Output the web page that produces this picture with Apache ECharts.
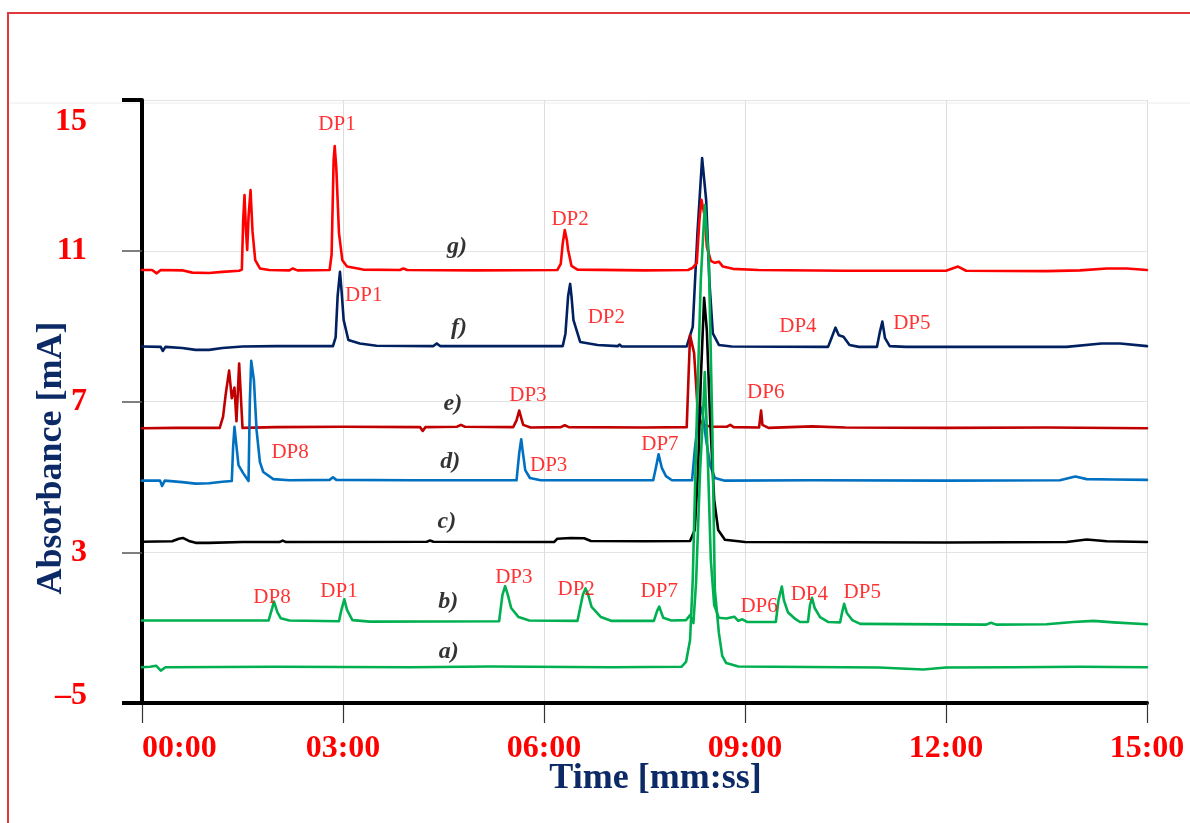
<!DOCTYPE html>
<html><head><meta charset="utf-8">
<script src="https://cdn.jsdelivr.net/npm/echarts@6/dist/echarts.min.js"></script>
<style>html,body{margin:0;padding:0;background:#fff}#c{width:1190px;height:823px}</style>
</head><body><div id="c"></div>
<script>
// ---- tick labels ----
const xTickValues = [0, 3, 6, 9, 12, 15];
const xTickLabels = ['00:00', '03:00', '06:00', '09:00', '12:00', '15:00'];
const yTickValues = [-1, 3, 7, 11, 15];
const yTickLabels = ['\u20135', '3', '7', '11', '15'];

// ---- traces: [time (min), absorbance] ----
const traceG = [[0,10.49],[0.15,10.49],[0.22,10.40],[0.28,10.49],[0.6,10.48],[0.75,10.42],[1.0,10.41],[1.2,10.44],[1.45,10.47],[1.49,10.5],[1.51,11.8],[1.53,12.48],[1.55,11.6],[1.57,11.02],[1.59,11.9],[1.62,12.61],[1.65,11.5],[1.69,10.75],[1.76,10.53],[1.9,10.49],[2.2,10.48],[2.25,10.53],[2.32,10.48],[2.8,10.49],[2.83,10.9],[2.86,13.4],[2.876,13.78],[2.9,13.2],[2.94,11.47],[2.99,10.75],[3.06,10.58],[3.3,10.50],[3.85,10.49],[3.9,10.53],[3.96,10.49],[5.0,10.48],[6.2,10.49],[6.25,10.65],[6.28,11.2],[6.31,11.55],[6.34,11.3],[6.36,11.02],[6.41,10.60],[6.5,10.50],[7.5,10.48],[8.15,10.49],[8.22,10.55],[8.28,10.67],[8.32,11.82],[8.35,12.35],[8.40,11.90],[8.43,11.11],[8.49,10.73],[8.55,10.68],[8.61,10.71],[8.67,10.58],[8.82,10.52],[9.2,10.49],[10.5,10.47],[12.0,10.47],[12.18,10.58],[12.3,10.47],[13.5,10.46],[14.0,10.48],[14.4,10.53],[14.7,10.53],[15,10.49]];
const traceF = [[0,8.46],[0.28,8.45],[0.31,8.34],[0.35,8.45],[0.6,8.42],[0.8,8.37],[1.0,8.37],[1.2,8.42],[1.5,8.46],[2.0,8.47],[2.85,8.47],[2.89,8.7],[2.92,9.8],[2.955,10.44],[2.98,9.9],[3.01,9.16],[3.08,8.63],[3.25,8.54],[3.5,8.48],[4.35,8.47],[4.4,8.54],[4.45,8.47],[6.28,8.47],[6.32,8.8],[6.36,9.8],[6.39,10.12],[6.41,9.8],[6.44,9.16],[6.54,8.58],[6.8,8.50],[7.1,8.47],[7.13,8.51],[7.16,8.46],[8.13,8.46],[8.22,8.98],[8.29,11.47],[8.36,13.46],[8.42,12.35],[8.47,10.14],[8.52,8.81],[8.61,8.50],[8.8,8.46],[10.24,8.45],[10.29,8.68],[10.35,8.96],[10.40,8.76],[10.47,8.72],[10.56,8.50],[10.7,8.45],[10.97,8.45],[11.01,8.82],[11.05,9.12],[11.09,8.68],[11.16,8.47],[11.4,8.45],[13.8,8.45],[14.32,8.54],[14.6,8.54],[15,8.47]];
const traceE = [[0,6.29],[0.5,6.30],[1.0,6.30],[1.16,6.30],[1.21,6.6],[1.25,7.2],[1.30,7.82],[1.34,7.09],[1.38,7.37],[1.41,6.48],[1.45,8.01],[1.50,6.30],[2.0,6.32],[3.0,6.33],[4.15,6.32],[4.19,6.22],[4.23,6.32],[4.7,6.33],[4.76,6.38],[4.82,6.33],[5.54,6.32],[5.59,6.5],[5.63,6.76],[5.67,6.5],[5.69,6.38],[5.8,6.31],[6.25,6.32],[6.31,6.37],[6.37,6.32],[7.5,6.31],[8.13,6.32],[8.16,7.8],[8.18,8.76],[8.24,8.29],[8.30,6.60],[8.37,6.38],[8.5,6.33],[8.73,6.33],[8.78,6.38],[8.83,6.32],[9.21,6.31],[9.24,6.76],[9.26,6.38],[9.35,6.30],[10.0,6.34],[10.5,6.31],[12,6.30],[13.5,6.31],[15,6.29]];
const traceD = [[0,4.90],[0.27,4.90],[0.30,4.76],[0.34,4.90],[0.6,4.86],[0.8,4.82],[1.0,4.83],[1.2,4.87],[1.34,4.89],[1.36,5.79],[1.38,6.33],[1.40,5.98],[1.44,5.31],[1.51,5.10],[1.59,4.89],[1.61,7.04],[1.63,8.08],[1.67,7.57],[1.71,6.24],[1.76,5.39],[1.81,5.13],[1.96,4.94],[2.2,4.91],[2.8,4.92],[2.85,4.99],[2.9,4.92],[4.0,4.91],[5.59,4.91],[5.63,5.63],[5.66,6.00],[5.68,5.71],[5.72,5.18],[5.79,4.97],[5.95,4.91],[7.63,4.91],[7.67,5.24],[7.71,5.60],[7.76,5.23],[7.82,5.02],[7.91,4.91],[8.21,4.91],[8.25,5.71],[8.30,6.51],[8.33,6.88],[8.37,6.64],[8.42,5.98],[8.48,5.31],[8.55,4.97],[8.7,4.90],[10,4.91],[12,4.90],[13.7,4.91],[13.93,5.01],[14.1,4.94],[14.5,4.93],[15,4.92]];
const traceC = [[0,3.28],[0.45,3.29],[0.55,3.36],[0.61,3.38],[0.7,3.30],[0.8,3.25],[1.0,3.25],[1.5,3.27],[2.05,3.27],[2.1,3.31],[2.15,3.27],[4.25,3.28],[4.3,3.31],[4.35,3.28],[6.15,3.27],[6.2,3.36],[6.4,3.38],[6.6,3.37],[6.7,3.30],[7.5,3.29],[8.18,3.30],[8.25,3.59],[8.30,5.18],[8.34,7.57],[8.39,9.75],[8.43,8.90],[8.48,6.51],[8.54,4.39],[8.60,3.59],[8.70,3.33],[9.0,3.27],[12,3.26],[13.8,3.27],[14.1,3.34],[14.4,3.29],[15,3.27]];
const traceB = [[0,1.19],[1.0,1.19],[1.89,1.19],[1.94,1.5],[1.97,1.69],[2.02,1.41],[2.07,1.25],[2.2,1.19],[2.94,1.17],[2.98,1.5],[3.02,1.75],[3.06,1.47],[3.14,1.20],[3.4,1.16],[5.33,1.17],[5.38,1.87],[5.42,2.10],[5.46,1.87],[5.51,1.52],[5.62,1.28],[5.78,1.19],[6.50,1.18],[6.58,1.87],[6.62,2.04],[6.66,1.87],[6.71,1.55],[6.85,1.28],[7.0,1.18],[7.64,1.18],[7.69,1.45],[7.72,1.555],[7.78,1.26],[7.9,1.19],[8.12,1.2],[8.18,1.33],[8.23,1.12],[8.27,2.2],[8.33,5.18],[8.37,6.51],[8.40,7.78],[8.45,5.18],[8.49,2.79],[8.54,1.60],[8.61,1.26],[8.72,1.24],[8.84,1.29],[8.90,1.18],[8.96,1.22],[9.03,1.15],[9.46,1.15],[9.50,1.73],[9.55,2.09],[9.58,1.73],[9.64,1.41],[9.75,1.23],[9.82,1.15],[9.94,1.15],[9.97,1.60],[10.0,1.79],[10.04,1.52],[10.12,1.28],[10.24,1.15],[10.42,1.14],[10.45,1.41],[10.48,1.63],[10.52,1.39],[10.60,1.20],[10.72,1.10],[12.6,1.08],[12.67,1.13],[12.75,1.08],[13.5,1.09],[13.9,1.15],[14.2,1.18],[14.5,1.14],[15,1.09]];
const traceA = [[0,-0.05],[0.12,-0.04],[0.21,-0.01],[0.28,-0.14],[0.35,-0.05],[2,-0.04],[4,-0.05],[5.2,-0.03],[7,-0.05],[8.05,-0.04],[8.12,0.09],[8.18,0.67],[8.22,2.26],[8.28,6.51],[8.34,10.22],[8.40,12.21],[8.46,10.75],[8.51,6.51],[8.55,2.0],[8.61,0.86],[8.66,0.25],[8.72,0.06],[8.9,-0.03],[11,-0.06],[11.66,-0.11],[12,-0.06],[13,-0.05],[14,-0.04],[15,-0.05]];

// ---- trace names and annotation labels: [text, time, absorbance] ----
const traceLabels = [['g)',4.70,11.10],['f)',4.73,8.95],['e)',4.64,6.93],['d)',4.60,5.39],['c)',4.55,3.80],['b)',4.57,1.68],['a)',4.58,0.35]];
const peakLabels = [
  ['DP1',2.91,14.36],['DP2',6.39,11.84],
  ['DP1',3.31,9.80],['DP2',6.93,9.24],['DP4',9.79,8.98],['DP5',11.49,9.08],
  ['DP3',5.76,7.17],['DP6',9.31,7.23],
  ['DP8',2.21,5.66],['DP3',6.07,5.29],['DP7',7.73,5.87],
  ['DP8',1.94,1.81],['DP1',2.94,1.95],['DP3',5.55,2.34],['DP2',6.48,2.02],['DP7',7.72,1.95],['DP6',9.21,1.55],['DP4',9.96,1.87],['DP5',10.75,1.92]
];

const SERIF = '"Liberation Serif", "Times New Roman", serif';
const traces = [
  {name:'f', data:traceF, color:'#002060'},
  {name:'g', data:traceG, color:'#ff0000'},
  {name:'e', data:traceE, color:'#c00000'},
  {name:'d', data:traceD, color:'#0070c0'},
  {name:'c', data:traceC, color:'#000000'},
  {name:'b', data:traceB, color:'#00b050'},
  {name:'a', data:traceA, color:'#00b050'}
];

const series = traces.map(t => ({
  type:'line', name:t.name, data:t.data, showSymbol:false, symbol:'none',
  lineStyle:{color:t.color, width:2.6, join:'round', cap:'round'}, silent:true, animation:false, z:3
}));
function textSeries(list, style) {
  return {
    type:'scatter', data:list.map(d => ({value:[d[1], d[2]], name:d[0]})),
    symbolSize:1, itemStyle:{color:'rgba(0,0,0,0)'}, silent:true, animation:false, z:6,
    label:Object.assign({show:true, position:'inside', formatter:p => p.name}, style)
  };
}
series.push(textSeries(peakLabels, {color:'#ff0000', fontFamily:SERIF, fontSize:21}));
series.push(textSeries(traceLabels, {color:'#000', fontFamily:SERIF, fontSize:24, fontWeight:'bold', fontStyle:'italic'}));

const axisLabelStyle = {color:'#ff0000', fontFamily:SERIF, fontWeight:'bold', fontSize:32};

const chart = echarts.init(document.getElementById('c'), null, {renderer:'canvas'});
chart.setOption({
  animation:false,
  grid:{left:142, right:43, top:100, bottom:120, containLabel:false},
  xAxis:{
    type:'value', min:0, max:15, interval:3,
    axisLine:{show:true, onZero:false, lineStyle:{color:'#000', width:4}},
    axisTick:{show:true, length:20, lineStyle:{color:'#333', width:1.2}},
    axisLabel:Object.assign({margin:30, alignMinLabel:'left', formatter:v => xTickLabels[xTickValues.indexOf(v)]}, axisLabelStyle),
    splitLine:{show:true, lineStyle:{color:'#dddddd', width:1}}
  },
  yAxis:{
    type:'value', min:-1, max:15, interval:4,
    axisLine:{show:true, onZero:false, lineStyle:{color:'#000', width:4}},
    axisTick:{show:true, length:20, lineStyle:{color:'#555', width:1.5}},
    axisLabel:Object.assign({
      margin:55,
      formatter:v => {
        const s = yTickLabels[yTickValues.indexOf(v)];
        if (v === 15) return '{top|' + s + '}';
        if (v === -1) return '{bot|' + s + '}';
        return s;
      },
      rich:{
        top:Object.assign({padding:[44,0,0,0]}, axisLabelStyle),
        bot:Object.assign({padding:[0,0,14,0]}, axisLabelStyle)
      }
    }, axisLabelStyle),
    splitLine:{show:true, lineStyle:{color:'#e3e3e3', width:1}}
  },
  series:series
});

// decorations derived from axis geometry
const pTop = chart.convertToPixel({gridIndex:0}, [0, 15]);
const pBot = chart.convertToPixel({gridIndex:0}, [0, -1]);
const pEnd = chart.convertToPixel({gridIndex:0}, [15, -1]);
chart.setOption({
  graphic:[
    {type:'rect', shape:{x:8, y:13, width:1400, height:1000}, style:{fill:'none', stroke:'#e0393b', lineWidth:2}, silent:true, z:1},
    {type:'line', shape:{x1:8, y1:pTop[1]+3, x2:1190, y2:pTop[1]+3}, style:{stroke:'#ececec', lineWidth:1}, silent:true, z:0},
    {type:'line', shape:{x1:pTop[0]-20, y1:pTop[1], x2:pTop[0], y2:pTop[1]}, style:{stroke:'#000', lineWidth:4}, silent:true, z:10},
    {type:'line', shape:{x1:pBot[0]-20, y1:pBot[1], x2:pEnd[0], y2:pBot[1]}, style:{stroke:'#000', lineWidth:4}, silent:true, z:10},
    {type:'text', x:(pBot[0]+pEnd[0])/2 + 11, y:pBot[1] + 76, silent:true, z:10,
      style:{text:'Time [mm:ss]', font:'bold 36px ' + SERIF, fill:'#0c2a66', textAlign:'center', textVerticalAlign:'middle'}},
    {type:'text', x:52, y:458, rotation:Math.PI/2, silent:true, z:10,
      style:{text:'Absorbance [mA]', font:'bold 36px ' + SERIF, fill:'#0c2a66', textAlign:'center', textVerticalAlign:'middle'}}
  ]
});
</script></body></html>
